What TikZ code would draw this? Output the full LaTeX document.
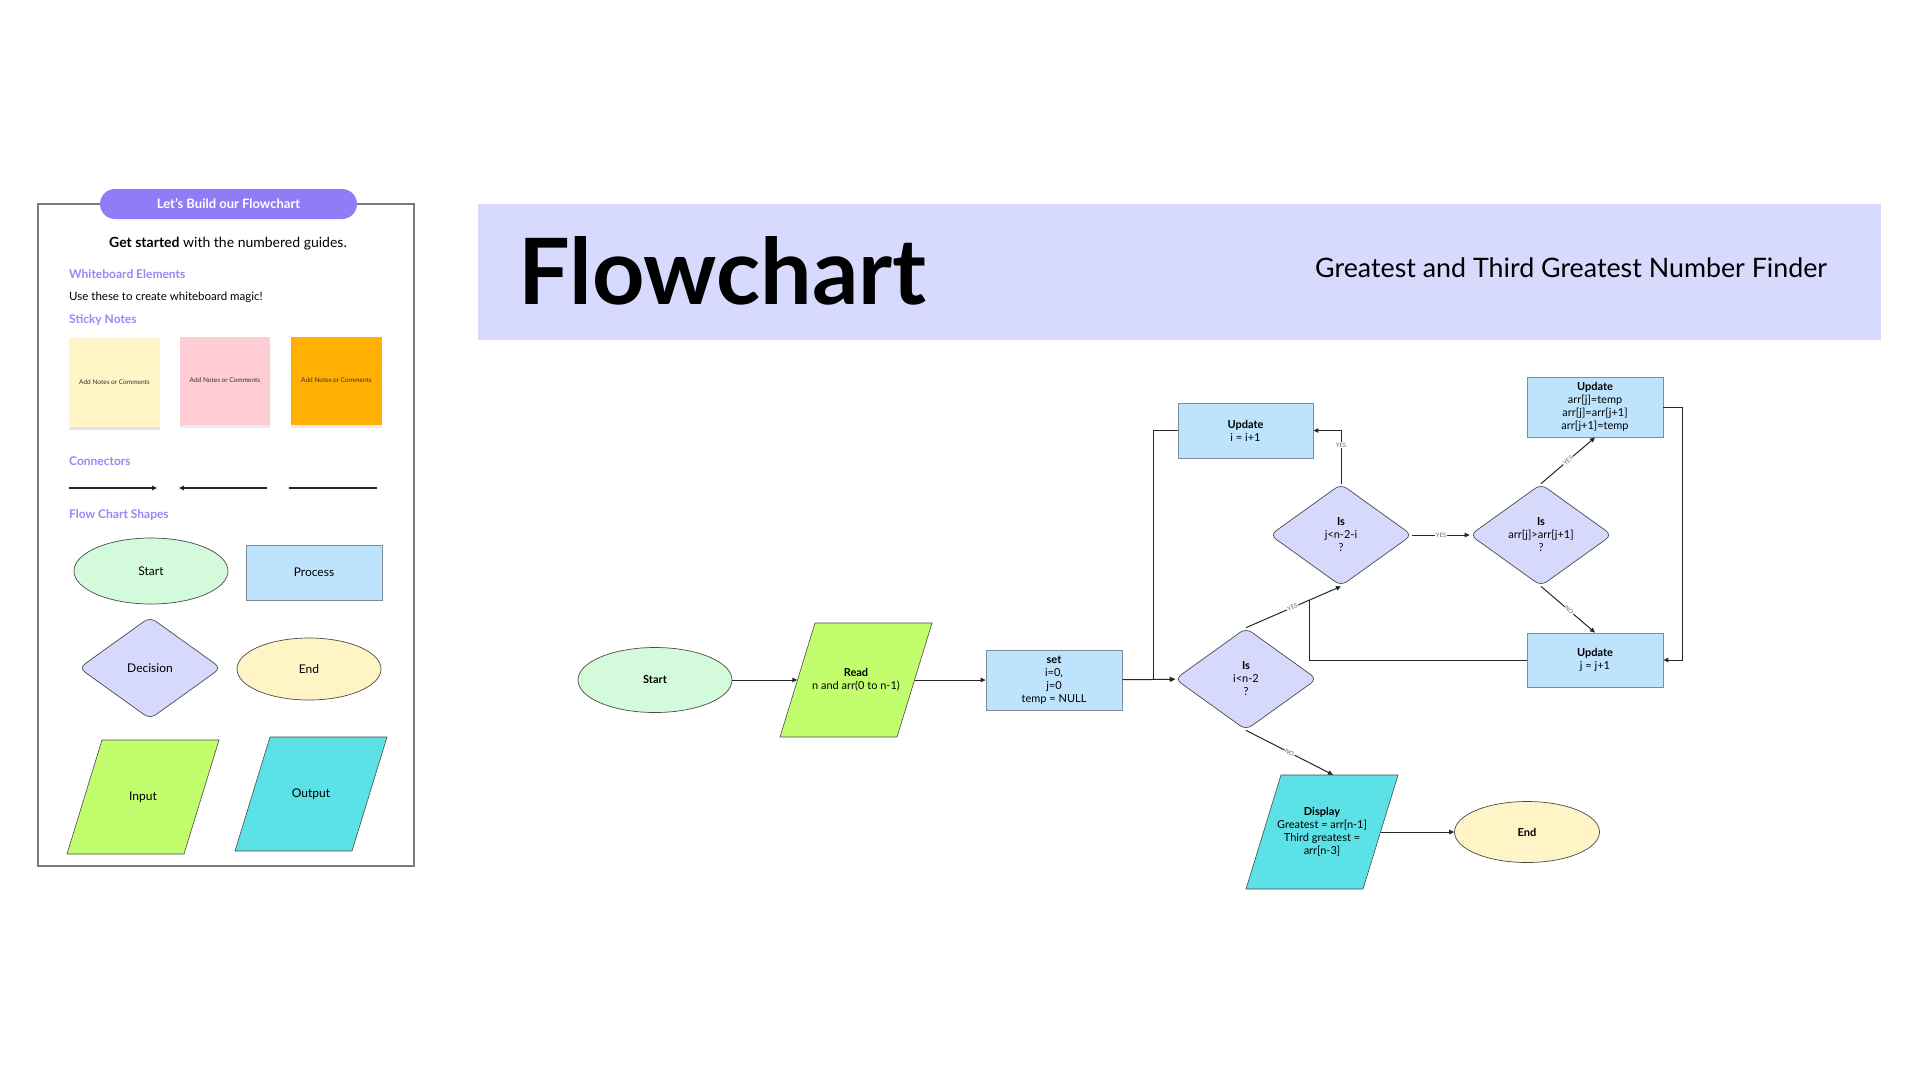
\documentclass[tikz,border=0pt]{standalone}
\usepackage{fontspec}
\setmainfont{Lato}
\usetikzlibrary{shapes.geometric,arrows.meta,calc}

\definecolor{pillpurple}{HTML}{8F7CF7}
\definecolor{headpurple}{HTML}{9A86F6}
\definecolor{headerlav}{HTML}{D7D9FD}
\definecolor{startgreen}{HTML}{D4FADC}
\definecolor{procblue}{HTML}{BEE3FD}
\definecolor{procedge}{HTML}{7D8C99}
\definecolor{declav}{HTML}{D6D8FC}
\definecolor{endyellow}{HTML}{FFF4C5}
\definecolor{inlime}{HTML}{C1FD6D}
\definecolor{outcyan}{HTML}{5CE1E6}
\definecolor{stickyyellow}{HTML}{FFF5C7}
\definecolor{stickypink}{HTML}{FFCCD3}
\definecolor{stickyorange}{HTML}{FFB000}
\definecolor{edgegray}{HTML}{4A4A4A}
\definecolor{panelgray}{HTML}{7A7A7A}

\tikzset{
  txt/.style={font=\fontsize{11}{13}\selectfont, align=center, inner sep=0pt, text=black},
  terminal/.style={txt, ellipse, draw=edgegray, line width=0.7pt},
  procbox/.style={txt, rectangle, fill=procblue, draw=procedge, line width=0.8pt},
  decision/.style={txt, diamond, fill=declav, draw=edgegray, line width=0.7pt,
    rounded corners=7pt, minimum width=142pt, minimum height=102pt},
  % text holder of a slanted box: its west/east anchors sit on the slanted sides
  iobox/.style={txt, rectangle, minimum width=117pt, minimum height=114pt},
  slanted/.style={draw=edgegray, line width=0.6pt},
  conn/.style={draw=black!85, line width=1pt, -{Triangle[length=5pt,width=4.5pt]}},
  plainline/.style={draw=black!85, line width=1pt},
  lbl/.style={font=\fontsize{6}{6.5}\selectfont, text=black!60, fill=white, inner sep=0.8pt},
  heading/.style={font=\fontsize{12}{14}\selectfont\bfseries, text=headpurple, anchor=base west, inner sep=0pt},
  sticky/.style={font=\fontsize{6.5}{8}\selectfont, text=black!80, inner sep=0pt},
}

% parallelogram (input/output symbol) centred at (#1,#2), filled with #3
\newcommand{\slantbox}[3]{%
  \filldraw[slanted, fill=#3] (#1-41,#2-57) -- (#1+76,#2-57) -- (#1+41,#2+57) -- (#1-76,#2+57) -- cycle;}

\begin{document}
\begin{tikzpicture}[x=1pt,y=-1pt]
\useasboundingbox[fill=white] (0,0) rectangle (1920,1080);

% ---------- guide panel ----------
\draw[panelgray, line width=1.2pt] (38,204) rectangle (414,866);
\node[fill=pillpurple, rounded corners=15pt, minimum width=257pt, minimum height=30pt,
      inner sep=0pt, text=white, font=\fontsize{13}{15}\selectfont\bfseries]
  (pill) at (228.5,204) {Let's Build our Flowchart};
\node[font=\fontsize{14}{16}\selectfont, anchor=base, inner sep=0pt] (getstarted) at (228,247)
  {\textbf{Get started} with the numbered guides.};
\node[heading] (wbe) at (69,278) {Whiteboard Elements};
\node[font=\fontsize{11.5}{14}\selectfont, anchor=base west, inner sep=0pt] (wbetxt) at (69,300)
  {Use these to create whiteboard magic!};
\node[heading] (sn) at (69,323) {Sticky Notes};

% sticky notes with a soft shadow
\fill[black!10] (69,341) rectangle (160,430);
\fill[stickyyellow] (69,338) rectangle (160,427);
\node[sticky] (n1) at (114.5,382) {Add Notes or Comments};
\fill[black!8] (180,340) rectangle (270,428);
\fill[stickypink] (180,337) rectangle (270,425);
\node[sticky] (n2) at (225,380) {Add Notes or Comments};
\fill[black!8] (291,340) rectangle (382,428);
\fill[stickyorange] (291,337) rectangle (382,425);
\node[sticky] (n3) at (336.5,380) {Add Notes or Comments};

\node[heading] (cn) at (69,465) {Connectors};
\coordinate (c1a) at (69,488);  \coordinate (c1b) at (157,488);
\coordinate (c2a) at (267,488); \coordinate (c2b) at (179,488);
\coordinate (c3a) at (289,488); \coordinate (c3b) at (377,488);
\draw[conn, line width=1.3pt] (c1a) -- (c1b);
\draw[conn, line width=1.3pt] (c2a) -- (c2b);
\draw[plainline, line width=1.3pt] (c3a) -- (c3b);

\node[heading] (fcs) at (69,518) {Flow Chart Shapes};
\node[terminal, fill=startgreen, minimum width=154pt, minimum height=66pt,
      font=\fontsize{12}{14}\selectfont] (lstart) at (151,571) {Start};
\node[procbox, minimum width=136pt, minimum height=55pt,
      font=\fontsize{12}{14}\selectfont] (lproc) at (314,572.5) {Process};
\node[decision, font=\fontsize{12}{14}\selectfont] (ldec) at (150,668) {Decision};
\node[terminal, fill=endyellow, minimum width=144pt, minimum height=62pt,
      font=\fontsize{12}{14}\selectfont] (lend) at (309,669) {End};
\slantbox{143}{797}{inlime}
\node[iobox, font=\fontsize{12}{14}\selectfont] (lin) at (143,797) {Input};
\slantbox{311}{794}{outcyan}
\node[iobox, font=\fontsize{12}{14}\selectfont] (lout) at (311,794) {Output};

% ---------- title band ----------
\fill[headerlav] (478,204) rectangle (1881,340);
\node[anchor=base west, inner sep=0pt, font=\fontsize{91.5}{100}\selectfont\bfseries] (title)
  at (518,304) {Flowchart};
\node[anchor=base west, inner sep=0pt, font=\fontsize{26.8}{30}\selectfont] (subtitle)
  at (1315,277) {Greatest and Third Greatest Number Finder};

% ---------- flowchart ----------
\node[terminal, fill=startgreen, minimum width=154pt, minimum height=65pt] (start) at (655,680)
  {\textbf{Start}};
\slantbox{856}{680}{inlime}
\node[iobox] (read) at (856,680)
  {\textbf{Read}\\n and arr(0 to n-1)};
\node[procbox, minimum width=136pt, minimum height=60pt] (set) at (1054,680)
  {\textbf{set}\\i=0,\\j=0\\temp = NULL};
\node[decision] (di) at (1246,679) {\textbf{Is}\\i<n-2\\?};
\node[procbox, minimum width=135pt, minimum height=55pt] (updi) at (1245.5,430.5)
  {\textbf{Update}\\i = i+1};
\node[decision] (dj) at (1341,535) {\textbf{Is}\\j<n-2-i\\?};
\node[decision] (da) at (1541,535) {\textbf{Is}\\arr[j]>arr[j+1]\\?};
\node[procbox, minimum width=136pt, minimum height=60pt] (swap) at (1595,407)
  {\textbf{Update}\\arr[j]=temp\\arr[j]=arr[j+1]\\arr[j+1]=temp};
\node[procbox, minimum width=136pt, minimum height=54pt] (updj) at (1595,660)
  {\textbf{Update}\\j = j+1};
\slantbox{1322}{832}{outcyan}
\node[iobox] (disp) at (1322,832)
  {\textbf{Display}\\Greatest = arr[n-1]\\Third greatest =\\arr[n-3]};
\node[terminal, fill=endyellow, minimum width=145pt, minimum height=61pt] (endn) at (1527,832)
  {\textbf{End}};

\draw[conn] (start) -- (read);
\draw[conn] (read) -- (set);
\draw[conn] (set) -- (di);
\draw[conn] (updi.west) -| ($(di.west)+(-21,0)$) -- (di.west);
\draw[conn] (dj.north) |- node[lbl, pos=0.36] {YES} (updi.east);
\draw[conn] (di.north) -- node[lbl, sloped, pos=0.49] {YES} (dj.south);
\coordinate (merge) at ($(di.north)!0.665!(dj.south)$);
\draw[plainline] (updj.west) -| (merge);
\draw[conn] (di.south) -- node[lbl, sloped, pos=0.5] {NO} ($(disp.north)+(11,0)$);
\draw[conn] (disp) -- (endn);
\draw[conn] (dj.east) -- node[lbl, pos=0.5] {YES} (da.west);
\draw[conn] (da.north) -- node[lbl, sloped, pos=0.5] {YES} (swap.south);
\draw[conn] (da.south) -- node[lbl, sloped, pos=0.52] {NO} (updj.north);
\draw[conn] (swap.east) -- ++(19,0) |- (updj.east);

\end{tikzpicture}
\end{document}
